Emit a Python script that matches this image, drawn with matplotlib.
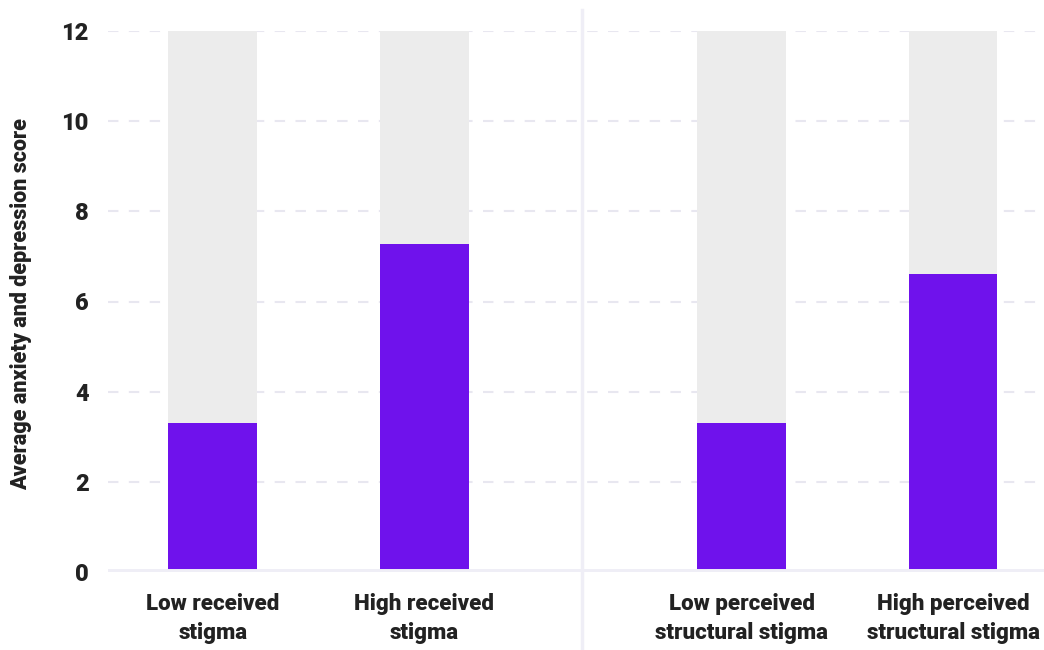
import matplotlib
matplotlib.use("Agg")
import matplotlib.pyplot as plt
from matplotlib.lines import Line2D

categories = ["Low received\nstigma", "High received\nstigma",
              "Low perceived\nstructural stigma", "High perceived\nstructural stigma"]
values = [3.30, 7.27, 3.30, 6.61]
positions = [0, 1, 2.5, 3.5]
y_max = 12
y_ticks = [0, 2, 4, 6, 8, 10, 12]
y_label = "Average anxiety and depression score"

plt.rcParams['font.family'] = ['Roboto', 'DejaVu Sans']

fig = plt.figure(figsize=(10.44, 6.5), dpi=100)
ax = fig.add_axes([108/1044, (650-572)/650, (1044-108)/1044, (572-31)/650])

ax.bar(positions, [y_max]*4, width=0.42, color="#ececec", zorder=2)
ax.bar(positions, values, width=0.42, color="#6f12ec", zorder=3)

ax.set_xlim(-0.4953, 3.93)
ax.set_ylim(0, y_max)
ax.set_yticks(y_ticks)
ax.set_yticklabels([str(t) for t in y_ticks], fontsize=17, fontweight='heavy', color="#222222")
ax.set_xticks(positions)
ax.set_xticklabels(categories, fontsize=16, fontweight='heavy', color="#222222", linespacing=1.45)
ax.tick_params(axis='both', length=0)
ax.tick_params(axis='y', pad=14)
ax.tick_params(axis='x', pad=15)
for s in ax.spines.values():
    s.set_visible(False)
for t in y_ticks[1:]:
    ax.axhline(t, color="#e8e7f0", lw=1.5, ls=(0, (5, 5)), zorder=1)
ax.axhline(0, color="#efeef6", lw=5, zorder=4)
ax.set_ylabel(y_label, fontsize=15.5, fontweight='heavy', color="#222222")
ax.yaxis.set_label_coords(-0.081, 0.495)

fig.add_artist(Line2D([581.5/1044]*2, [0, 1-10/650], transform=fig.transFigure, color="#efeef6", lw=2.5))

fig.savefig("out.png", dpi=100)
